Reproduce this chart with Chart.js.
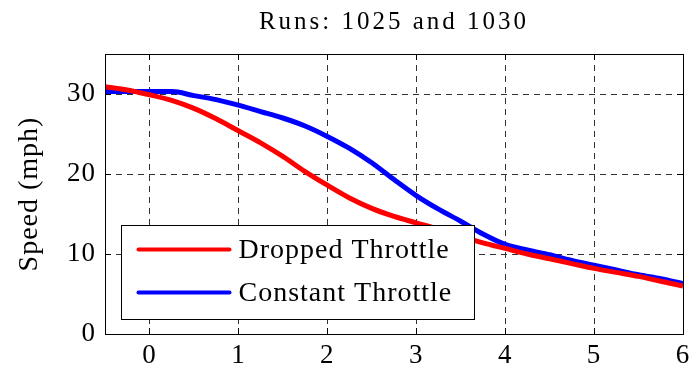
<!DOCTYPE html>
<html>
<head>
<meta charset="utf-8">
<script src="https://cdn.jsdelivr.net/npm/chart.js@4"></script>
<style>
  html, body { margin: 0; padding: 0; background: #ffffff; }
  #wrap { width: 698px; height: 372px; }
</style>
</head>
<body>
<div id="wrap"><canvas id="chart" width="698" height="372"></canvas></div>
<script>
(() => {
    'use strict';

    const titleText = 'Runs: 1025 and 1030';
    const yAxisLabel = 'Speed (mph)';
    const seriesNames = ['Dropped Throttle', 'Constant Throttle'];
    const seriesColors = ['#ff0000', '#0000ff'];

    const timeValues = [-0.5, -0.25, 0, 0.25, 0.5, 0.75, 1, 1.25, 1.5, 1.75, 2, 2.25, 2.5,
        2.75, 3, 3.25, 3.5, 3.75, 4, 4.25, 4.5, 4.75, 5, 5.25, 5.5, 5.75, 6];
    const droppedThrottle = [30.9, 30.5, 29.9, 29.2, 28.2, 26.9, 25.4, 23.9, 22.2, 20.3, 18.6,
        17.0, 15.7, 14.7, 13.9, 13.1, 12.2, 11.4, 10.7, 10.0, 9.4, 8.8, 8.2, 7.7, 7.2, 6.6, 6.0];
    const constantThrottle = [30.3, 30.3, 30.3, 30.3, 29.8, 29.3, 28.6, 27.8, 27.0, 26.0, 24.7,
        23.2, 21.4, 19.3, 17.3, 15.6, 14.1, 12.5, 11.2, 10.5, 9.9, 9.2, 8.6, 8.0, 7.4, 6.9, 6.3];

    const xTickValues = [0, 1, 2, 3, 4, 5, 6];
    const yTickValues = [0, 10, 20, 30];

    const serif = "'Liberation Serif', 'Times New Roman', serif";

    const toPoints = (values) => values.map((v, i) => ({ x: timeValues[i], y: v }));

    const matlabFrame = {
        id: 'matlabFrame',
        beforeDraw(chart) {
            chart.ctx.letterSpacing = '1px';
        },
        afterDatasetsDraw(chart) {
            const { ctx, chartArea: area, scales } = chart;
            ctx.save();
            ctx.strokeStyle = '#000000';
            ctx.lineWidth = 1;
            ctx.setLineDash([]);
            ctx.beginPath();
            xTickValues.forEach((v) => {
                const px = Math.round(scales.x.getPixelForValue(v)) + 0.5;
                ctx.moveTo(px, area.bottom); ctx.lineTo(px, area.bottom - 6);
                ctx.moveTo(px, area.top); ctx.lineTo(px, area.top + 6);
            });
            yTickValues.forEach((v) => {
                const py = Math.round(scales.y.getPixelForValue(v)) + 0.5;
                ctx.moveTo(area.left, py); ctx.lineTo(area.left + 6, py);
                ctx.moveTo(area.right, py); ctx.lineTo(area.right - 6, py);
            });
            ctx.stroke();
            ctx.strokeRect(Math.round(area.left) + 0.5, Math.round(area.top) + 0.5,
                Math.round(area.right - area.left), Math.round(area.bottom - area.top));
            ctx.restore();
        },
        afterDraw(chart) {
            const { ctx, chartArea: area } = chart;
            ctx.save();
            // title
            ctx.letterSpacing = '3px';
            ctx.fillStyle = '#000000';
            ctx.font = '25px ' + serif;
            ctx.textAlign = 'center';
            ctx.textBaseline = 'alphabetic';
            ctx.fillText(titleText, (area.left + area.right) / 2, 29);

            // legend box
            const bx = Math.round(area.left) + 16.5;
            const by = Math.round(area.bottom) - 108.5;
            ctx.fillStyle = '#ffffff';
            ctx.fillRect(bx, by, 353, 94);
            ctx.strokeStyle = '#000000';
            ctx.lineWidth = 1;
            ctx.strokeRect(bx, by, 353, 94);
            ctx.letterSpacing = '1px';
            ctx.font = '28px ' + serif;
            ctx.textAlign = 'left';
            ctx.textBaseline = 'middle';
            seriesNames.forEach((name, i) => {
                const ly = by + 24 + i * 43;
                ctx.strokeStyle = seriesColors[i];
                ctx.lineWidth = 4;
                ctx.lineCap = 'round';
                ctx.beginPath();
                ctx.moveTo(bx + 17, ly);
                ctx.lineTo(bx + 108, ly);
                ctx.stroke();
                ctx.fillStyle = '#000000';
                ctx.fillText(name, bx + 117, ly + 1);
            });
            ctx.restore();
        },
    };

    const lineStyle = (index, values) => ({
        label: seriesNames[index],
        data: toPoints(values),
        showLine: true,
        borderColor: seriesColors[index],
        backgroundColor: seriesColors[index],
        borderWidth: 5,
        pointRadius: 0,
        cubicInterpolationMode: 'monotone',
    });

    new Chart(document.getElementById('chart'), {
        type: 'scatter',
        data: {
            datasets: [
                lineStyle(0, droppedThrottle),
                lineStyle(1, constantThrottle),
            ],
        },
        plugins: [matlabFrame],
        options: {
            responsive: false,
            animation: false,
            devicePixelRatio: 1,
            layout: {
                padding: { top: 54, right: 15, bottom: 0, left: 0 },
            },
            plugins: {
                legend: { display: false },
                title: { display: false },
                tooltip: { enabled: false },
            },
            scales: {
                x: {
                    type: 'linear',
                    min: -0.5,
                    max: 6,
                    afterBuildTicks: (scale) => {
                        scale.ticks = xTickValues.map((value) => ({ value }));
                    },
                    afterFit: (scale) => {
                        scale.height = 38;
                    },
                    ticks: {
                        color: '#000000',
                        font: { family: serif, size: 27 },
                        padding: 6,
                        maxRotation: 0,
                    },
                    grid: {
                        color: '#333333',
                        lineWidth: 1,
                        drawTicks: false,
                    },
                    border: { display: false, dash: [6, 5] },
                },
                y: {
                    type: 'linear',
                    min: 0,
                    max: 35,
                    afterBuildTicks: (scale) => {
                        scale.ticks = yTickValues.map((value) => ({ value }));
                    },
                    afterFit: (scale) => {
                        scale.width = 105;
                    },
                    ticks: {
                        color: '#000000',
                        font: { family: serif, size: 27 },
                        padding: 9,
                    },
                    grid: {
                        color: '#333333',
                        lineWidth: 1,
                        drawTicks: false,
                    },
                    border: { display: false, dash: [6, 5] },
                    title: {
                        display: true,
                        text: yAxisLabel,
                        color: '#000000',
                        font: { family: serif, size: 28 },
                        padding: { top: 13, bottom: 0 },
                    },
                },
            },
        },
    });
})();
</script>
</body>
</html>
